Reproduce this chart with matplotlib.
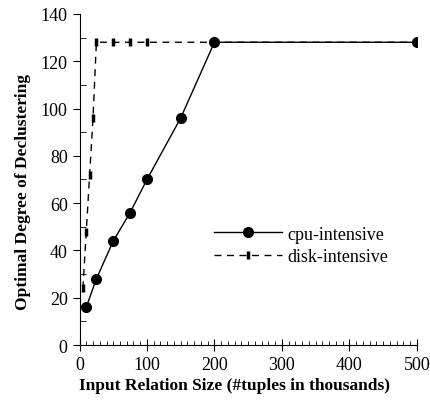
import matplotlib
matplotlib.use("Agg")
import matplotlib.pyplot as plt
from matplotlib.ticker import MultipleLocator

plt.rcParams['font.family'] = ['Liberation Serif', 'DejaVu Serif']

cpu_x = [10, 25, 50, 75, 100, 150, 200, 500]
cpu_y = [16, 28, 44, 56, 70, 96, 128, 128]
disk_x = [5, 10, 15, 20, 25, 50, 75, 100, 500]
disk_y = [24, 48, 72, 96, 128, 128, 128, 128, 128]

fig = plt.figure(figsize=(4.31, 4.02), dpi=100)
ax = fig.add_axes([0.1845, 0.139, 0.7825, 0.824])

ax.plot(disk_x, disk_y, color='black', linestyle=(0, (5, 4)), linewidth=1.0,
        marker='|', markersize=6, markeredgewidth=2.5, label='disk-intensive', zorder=2)
ax.plot(cpu_x, cpu_y, color='black', linestyle='-', linewidth=1.0,
        marker='o', markersize=7, label='cpu-intensive', zorder=3)

ax.set_xlim(0, 500)
ax.set_ylim(0, 140)
ax.xaxis.set_major_locator(MultipleLocator(100))
ax.xaxis.set_minor_locator(MultipleLocator(10))
ax.yaxis.set_major_locator(MultipleLocator(20))
ax.yaxis.set_minor_locator(MultipleLocator(10))
for s in ['top', 'right']:
    ax.spines[s].set_visible(False)
ax.tick_params(axis='y', which='major', direction='out', length=5, labelsize=13)
ax.tick_params(axis='y', which='minor', direction='in', length=4)
ax.tick_params(axis='x', which='major', direction='inout', length=8, labelsize=13)
ax.tick_params(axis='x', which='minor', direction='in', length=3)

ax.set_xlabel('Input Relation Size (#tuples in thousands)', fontsize=12.5, fontweight='bold')
ax.set_ylabel('Optimal Degree of Declustering', fontsize=12.5, fontweight='bold')
ax.xaxis.set_label_coords(0.461, -0.095)
ax.yaxis.set_label_coords(-0.145, 0.465)

handles, labels = ax.get_legend_handles_labels()
ax.legend(handles[::-1], labels[::-1], loc='upper left', bbox_to_anchor=(0.35, 0.41),
          frameon=False, fontsize=13, handlelength=3.8, handletextpad=0.3,
          labelspacing=0.3)

fig.savefig('out.png', dpi=100)
